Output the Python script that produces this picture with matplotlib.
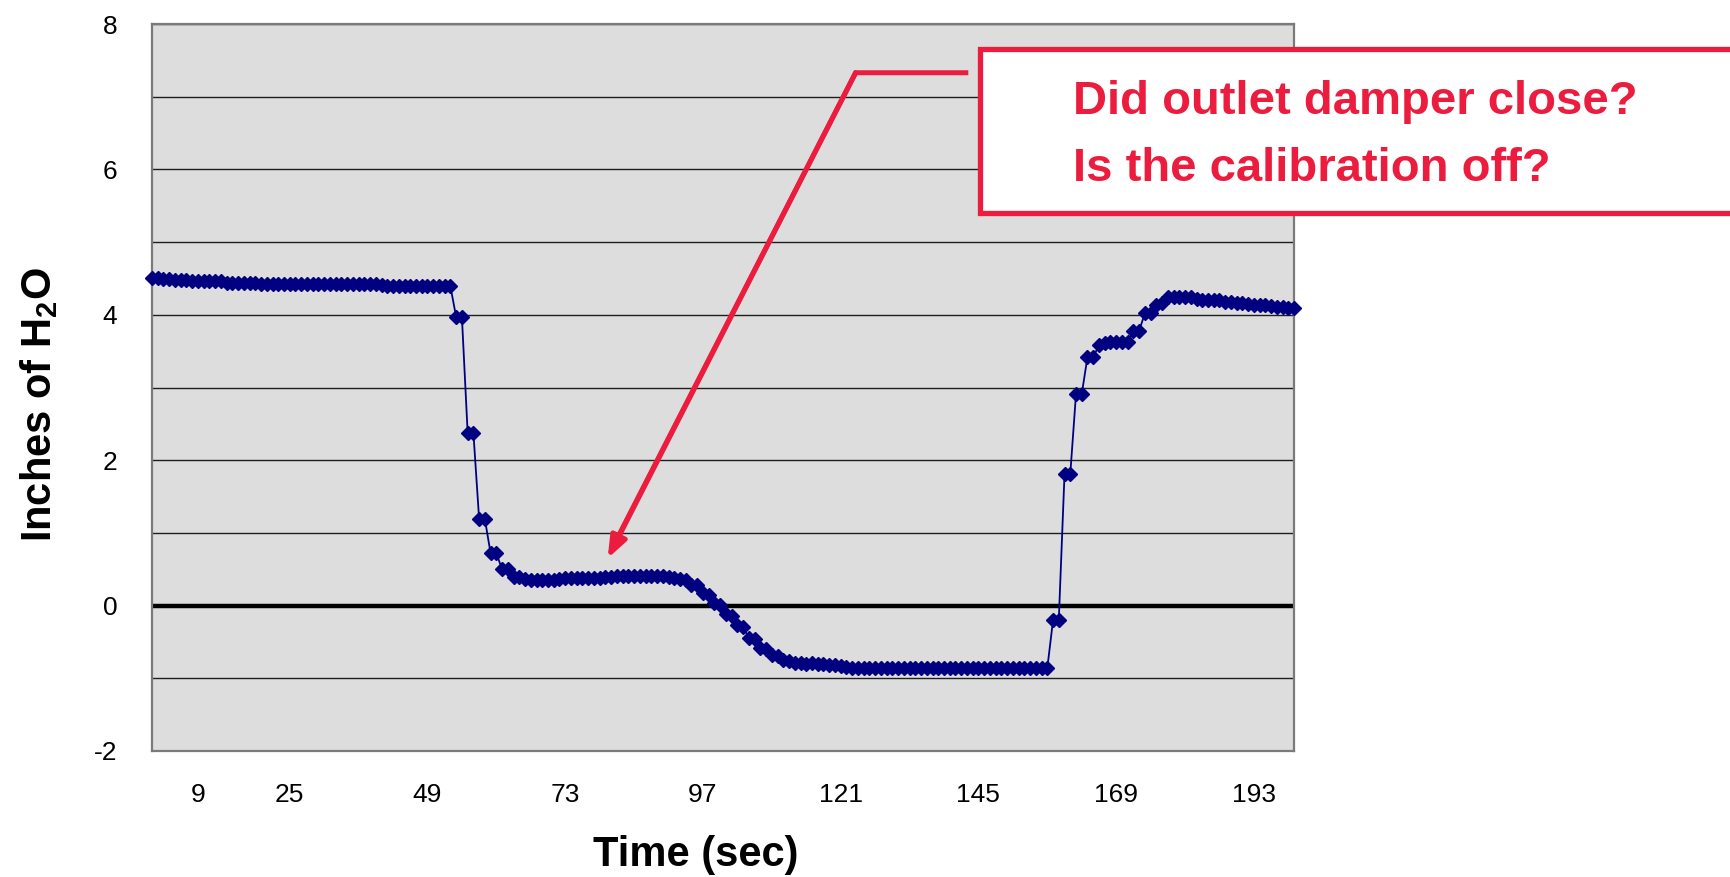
import matplotlib
matplotlib.use("Agg")
import matplotlib.pyplot as plt
from matplotlib.patches import Rectangle
import numpy as np

plt.rcParams["font.family"] = ["Liberation Sans", "DejaVu Sans"]
plt.rcParams["mathtext.fontset"] = "custom"
plt.rcParams["mathtext.rm"] = "Liberation Sans:bold"
plt.rcParams["mathtext.bf"] = "Liberation Sans:bold"
plt.rcParams["axes.unicode_minus"] = False

# pressure reading per second (categories 1..200)
pressure = [
    4.50, 4.50, 4.49, 4.49, 4.48, 4.48, 4.48, 4.46, 4.46, 4.46,
    4.46, 4.46, 4.46, 4.44, 4.44, 4.44, 4.44, 4.44, 4.44, 4.42,
    4.42, 4.42, 4.42, 4.42, 4.42, 4.42, 4.42, 4.42, 4.42, 4.42,
    4.42, 4.42, 4.42, 4.42, 4.42, 4.42, 4.42, 4.42, 4.42, 4.42,
    4.41, 4.39, 4.39, 4.39, 4.39, 4.39, 4.39, 4.39, 4.39, 4.39,
    4.39, 4.39, 4.39, 3.97, 3.97, 2.38, 2.38, 1.19, 1.19, 0.72,
    0.72, 0.50, 0.50, 0.40, 0.40, 0.36, 0.35, 0.35, 0.35, 0.35,
    0.35, 0.37, 0.38, 0.38, 0.38, 0.38, 0.38, 0.38, 0.38, 0.39,
    0.40, 0.41, 0.41, 0.41, 0.41, 0.41, 0.41, 0.41, 0.41, 0.41,
    0.40, 0.38, 0.36, 0.35, 0.29, 0.28, 0.17, 0.15, 0.03, 0.01,
    -0.12, -0.14, -0.27, -0.29, -0.45, -0.46, -0.59, -0.60, -0.68, -0.70,
    -0.75, -0.76, -0.79, -0.79, -0.80, -0.79, -0.80, -0.80, -0.82, -0.82,
    -0.83, -0.84, -0.86, -0.86, -0.86, -0.86, -0.86, -0.86, -0.86, -0.86,
    -0.86, -0.86, -0.86, -0.86, -0.86, -0.86, -0.86, -0.86, -0.86, -0.86,
    -0.86, -0.86, -0.86, -0.86, -0.86, -0.86, -0.86, -0.86, -0.86, -0.86,
    -0.86, -0.86, -0.86, -0.86, -0.86, -0.86, -0.86, -0.20, -0.20, 1.81,
    1.81, 2.91, 2.91, 3.42, 3.42, 3.58, 3.61, 3.62, 3.62, 3.62,
    3.62, 3.78, 3.78, 4.02, 4.02, 4.14, 4.16, 4.24, 4.25, 4.25,
    4.25, 4.24, 4.22, 4.21, 4.21, 4.20, 4.20, 4.18, 4.17, 4.16,
    4.16, 4.15, 4.14, 4.13, 4.13, 4.12, 4.11, 4.11, 4.10, 4.10,
]
time_sec = list(range(1, len(pressure) + 1))

x_ticks = [9, 25, 49, 73, 97, 121, 145, 169, 193]
y_ticks = [-2, 0, 2, 4, 6, 8]
y_grid = [-1, 1, 3, 5, 7]

note_lines = ["Did outlet damper close?", "Is the calibration off?"]
red = "#EC1C3E"
navy = "#000080"

fig = plt.figure(figsize=(17.31, 8.77), dpi=100)
ax = fig.add_axes([0.0878, 0.1437, 0.6598, 0.8289])
ax.set_facecolor("#DDDDDD")

ax.set_xlim(1, 200)
ax.set_ylim(-2, 8)
ax.set_xticks(x_ticks)
ax.set_yticks(y_ticks)
ax.set_yticks(y_grid, minor=True)
ax.tick_params(axis="both", which="both", length=0, labelsize=19)
ax.tick_params(axis="x", pad=23)
ax.tick_params(axis="y", pad=25)
ax.grid(True, which="both", axis="y", color="#1e1e1e", linewidth=1.0)
ax.axhline(0, color="black", linewidth=3.2, zorder=2)
for side in ax.spines.values():
    side.set_color("#7a7a7a")
    side.set_linewidth(1.6)

ax.plot(time_sec, pressure, color=navy, linewidth=1.3, marker="D",
        markersize=6.8, markeredgecolor=navy, zorder=3, clip_on=False)

ax.set_xlabel("Time (sec)", fontsize=30, fontweight="bold", va="center")
ax.xaxis.set_label_coords(0.476, -0.143)
ax.set_ylabel(r"Inches of H$_2$O", fontsize=30, fontweight="bold", va="center")
ax.yaxis.set_label_coords(-0.099, 0.477)

# callout arrow
tip = (80.4, 0.65)
bend = (123.6, 7.33)
start = (142.8, 7.33)
ax.plot([start[0], bend[0], tip[0] + 1.5], [start[1], bend[1], tip[1] + 0.25],
        color=red, linewidth=3.6, solid_joinstyle="miter", clip_on=False, zorder=4)
ax.annotate("", xy=tip, xytext=bend,
            arrowprops=dict(arrowstyle="-|>,head_length=1.3,head_width=0.5",
                            color=red, lw=3.6, shrinkA=0, shrinkB=0), zorder=4)

box = Rectangle((0.566, 0.757), 0.46, 0.187, transform=fig.transFigure,
                facecolor="white", edgecolor=red, linewidth=3.8, clip_on=False)
fig.add_artist(box)
fig.text(0.620, 0.884, note_lines[0], color=red, fontsize=34, fontweight="bold", va="center")
fig.text(0.620, 0.807, note_lines[1], color=red, fontsize=34, fontweight="bold", va="center")

fig.savefig("out.png", dpi=100)
